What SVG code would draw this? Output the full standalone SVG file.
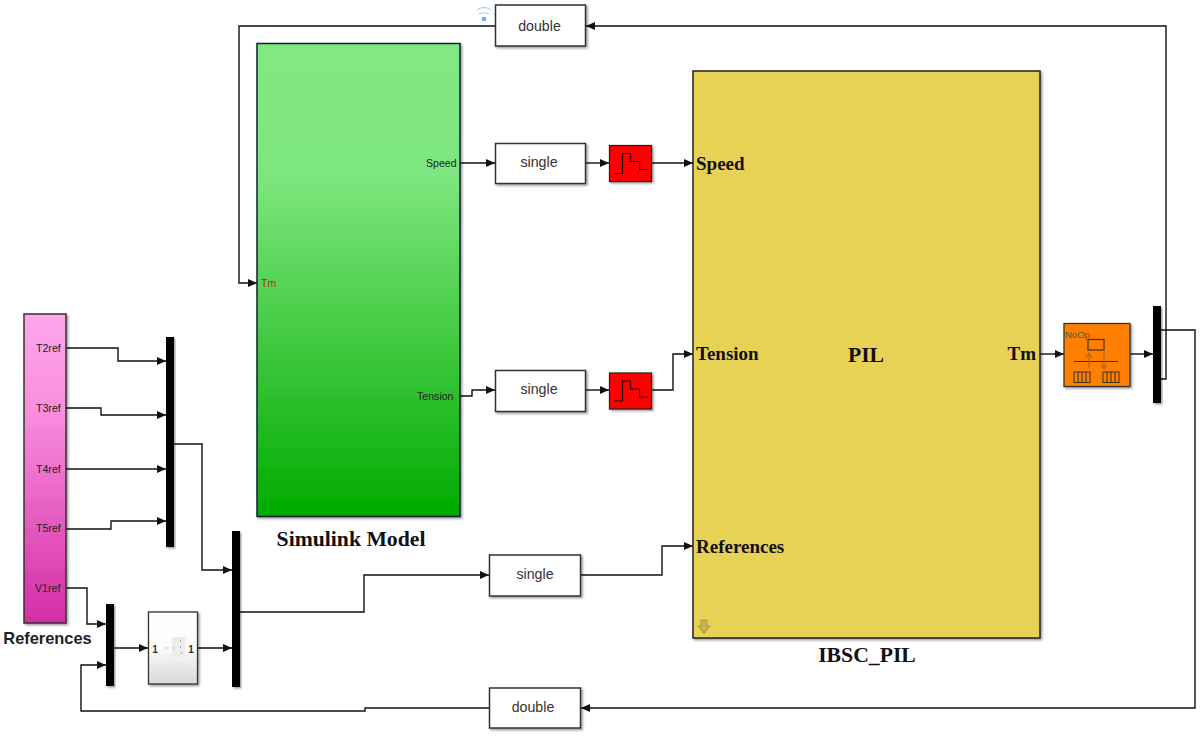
<svg xmlns="http://www.w3.org/2000/svg" width="1200" height="736" viewBox="0 0 1200 736">
<style>
.b{stroke:#222;stroke-width:1.5}
.w{fill:#fff;stroke:#333;stroke-width:1.5}
.bar{fill:#000}
.c{fill:none;stroke:#111;stroke-width:1.4}
.s{font-family:"Liberation Sans",Arial,sans-serif;font-size:10.6px;fill:#222}
.m{font-family:"Liberation Sans",Arial,sans-serif;font-size:14.200px;fill:#333;text-anchor:middle}
.t{font-family:"Liberation Serif","Times New Roman",serif;font-weight:bold;font-size:19px;fill:#111}
.l{font-size:21.700px}
.sh{filter:url(#ds)}
</style>
<defs>
<marker id="a" markerUnits="userSpaceOnUse" markerWidth="10" markerHeight="10" refX="9" refY="5" orient="auto"><path d="M0 1L9 5L0 9z" fill="#111"/></marker>
<linearGradient id="gg" x1="0" y1="0" x2="0" y2="1"><stop offset="0" stop-color="#82e882"/><stop offset=".28" stop-color="#7ee67e"/><stop offset="1" stop-color="#00ab00"/></linearGradient>
<linearGradient id="gp" x1="0" y1="0" x2="0" y2="1"><stop offset="0" stop-color="#ffa6ec"/><stop offset=".3" stop-color="#f98fdf"/><stop offset="1" stop-color="#d42da6"/></linearGradient>
<linearGradient id="gw" x1="0" y1="0" x2="0" y2="1"><stop offset="0" stop-color="#fff"/><stop offset=".5" stop-color="#fbfbfb"/><stop offset="1" stop-color="#d8d8d8"/></linearGradient>
<filter id="ds" x="-10%" y="-10%" width="125%" height="125%"><feDropShadow dx="1.500" dy="1.500" stdDeviation="1.200" flood-color="#000" flood-opacity=".4"/></filter>
<g id="zoh"><rect x="0" y="0" width="42" height="36" fill="#f00" stroke="#222" stroke-width="1.2" class="sh"/><path d="M5 28H13V8H21V16H30V24H38" fill="none" stroke="#200" stroke-width="1.200"/></g>
</defs>

<g id="connectors">
<path class="c" d="M495 26H239V283H257" marker-end="url(#a)"/>
<path class="c" d="M1161 379H1166V26H586" marker-end="url(#a)"/>
<path class="c" d="M1161 330H1195V708H581" marker-end="url(#a)"/>
<path class="c" d="M489 708H365V711H81V665H106" marker-end="url(#a)"/>
<path class="c" d="M460 163H495" marker-end="url(#a)"/>
<path class="c" d="M586 163H609" marker-end="url(#a)"/>
<path class="c" d="M652 163H693" marker-end="url(#a)"/>
<path class="c" d="M460 396H472V390H495" marker-end="url(#a)"/>
<path class="c" d="M586 390H609" marker-end="url(#a)"/>
<path class="c" d="M652 390H673V354H693" marker-end="url(#a)"/>
<path class="c" d="M1040 354H1064" marker-end="url(#a)"/>
<path class="c" d="M1130 354H1153" marker-end="url(#a)"/>
<path class="c" d="M66 348H118V361H166" marker-end="url(#a)"/>
<path class="c" d="M66 408H101V415H166" marker-end="url(#a)"/>
<path class="c" d="M66 469H166" marker-end="url(#a)"/>
<path class="c" d="M66 529H111V521H166" marker-end="url(#a)"/>
<path class="c" d="M66 588H87V624H106" marker-end="url(#a)"/>
<path class="c" d="M174 444H202V570H232" marker-end="url(#a)"/>
<path class="c" d="M114 648H148" marker-end="url(#a)"/>
<path class="c" d="M197 648H232" marker-end="url(#a)"/>
<path class="c" d="M240 612H364V575H489" marker-end="url(#a)"/>
<path class="c" d="M581 575H662V546H693" marker-end="url(#a)"/>
</g>

<g id="simulink-model">
<rect x="257" y="43.500" width="203" height="473" fill="url(#gg)" stroke="#123" stroke-width="1.500" class="sh"/>
<text class="s" x="426" y="167">Speed</text>
<text class="s" x="417" y="400">Tension</text>
<text class="s" x="261" y="287" style="fill:#a33a10">Tm</text>
<text x="351" y="546" text-anchor="middle" class="t l">Simulink Model</text>
</g>

<g id="pil">
<rect x="693" y="71" width="347" height="567" fill="#e8d254" stroke="#222" stroke-width="1.500" class="sh"/>
<text class="t" x="696" y="170">Speed</text>
<text class="t" x="696" y="360">Tension</text>
<text class="t" x="696" y="553">References</text>
<text class="t l" x="866" y="362" text-anchor="middle">PIL</text>
<text class="t" x="1036" y="360" text-anchor="end">Tm</text>
<path d="M701 620h6v6h3l-6 8l-6-8h3z" fill="#c4b14a" stroke="#a8994a" stroke-width="1"/>
<text class="t l" x="867" y="662" text-anchor="middle">IBSC_PIL</text>
</g>

<g id="references">
<rect x="24" y="314" width="42" height="309" fill="url(#gp)" stroke="#333" stroke-width="1.500" class="sh"/>
<text class="s" x="36" y="352">T2ref</text>
<text class="s" x="36" y="412">T3ref</text>
<text class="s" x="36" y="473">T4ref</text>
<text class="s" x="36" y="532">T5ref</text>
<text class="s" x="35" y="592">V1ref</text>
<text x="47.500" y="644" text-anchor="middle" font-family="Liberation Sans,Arial,sans-serif" font-weight="bold" font-size="16.400" fill="#222">References</text>
</g>

<g id="mux-1"><rect class="bar sh" x="166" y="337" width="8" height="210"/></g>
<g id="mux-2"><rect class="bar sh" x="232" y="531" width="8" height="156"/></g>
<g id="mux-3"><rect class="bar sh" x="106" y="604" width="8" height="82"/></g>
<g id="demux"><rect class="bar sh" x="1153" y="306" width="8" height="97"/></g>

<g id="gain">
<rect x="148.500" y="612" width="49" height="72" fill="url(#gw)" stroke="#333" stroke-width="1.300" class="sh"/>
<rect x="172" y="637" width="13" height="20" fill="#ececec"/>
<path d="M166 648h1M173 648h1M180 641h1M180 647h1M181 653h1" stroke="#777" stroke-width="1"/>
<text x="155" y="653" font-family="Liberation Sans,Arial,sans-serif" font-size="10" font-weight="bold" text-anchor="middle" fill="#333">1</text>
<text x="191" y="653" font-family="Liberation Sans,Arial,sans-serif" font-size="10" font-weight="bold" text-anchor="middle" fill="#333">1</text>
</g>

<g id="double-top">
<rect class="w sh" x="495.500" y="5" width="90" height="41"/>
<text class="m" x="539.500" y="31">double</text>
<path d="M477 10q7-5 14 0M479 14q5-3 10 0" fill="none" stroke="#a8c8e8" stroke-width="1"/>
<circle cx="484" cy="19" r="2.300" fill="#7aa8d8"/>
</g>
<g id="single-speed"><rect class="w sh" x="495.500" y="143.500" width="90" height="40"/><text class="m" x="539" y="167">single</text></g>
<g id="single-tension"><rect class="w sh" x="495.500" y="370.500" width="90" height="41"/><text class="m" x="539" y="394">single</text></g>
<g id="single-ref"><rect class="w sh" x="489.500" y="555" width="91" height="41"/><text class="m" x="535" y="579">single</text></g>
<g id="double-bottom"><rect class="w sh" x="489.500" y="688" width="91" height="40"/><text class="m" x="533" y="712">double</text></g>

<g id="zoh-1"><use href="#zoh" x="609.500" y="145.500"/></g>
<g id="zoh-2"><use href="#zoh" x="609.500" y="373"/></g>

<g id="rate-transition">
<rect x="1064" y="323.500" width="66" height="63" fill="#ff8000" stroke="#333" stroke-width="1.300" class="sh"/>
<text x="1065" y="338" font-family="Liberation Sans,Arial,sans-serif" font-size="9.500" fill="#553">NoOp</text>
<rect x="1088" y="339.500" width="16" height="10.500" fill="none" stroke="#432" stroke-width="1.200"/>
<path d="M1074 361.500H1118" stroke="#432" stroke-width="1.200"/>
<path d="M1089 368V353M1086 358L1089 353L1092 358M1104 350V368M1101 364L1104 369L1107 364" fill="none" stroke="#b0651c" stroke-width="1.200"/>
<path d="M1074 372h16v10.500h-16zM1103 372h16v10.500h-16zM1078 372v10.500M1082 372v10.500M1086 372v10.500M1107 372v10.500M1111 372v10.500M1115 372v10.500" fill="none" stroke="#432" stroke-width="1.100"/>
</g>
</svg>
